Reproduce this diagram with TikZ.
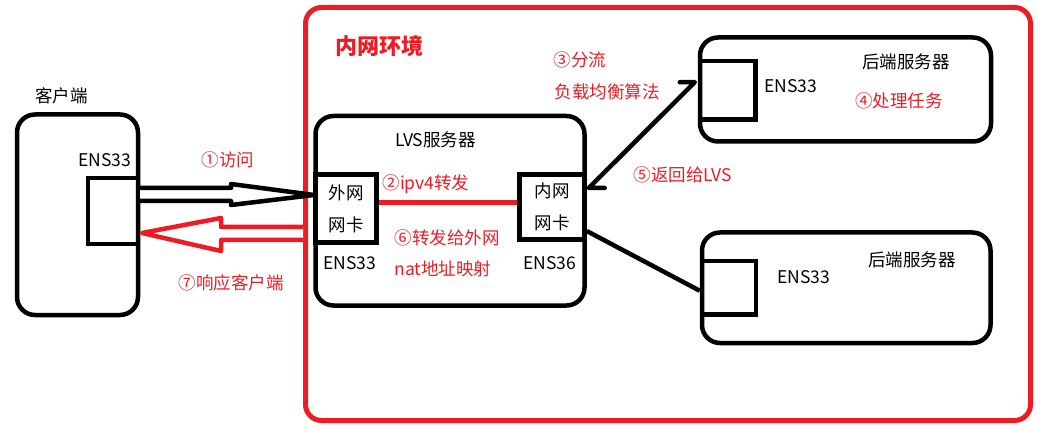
\documentclass[tikz,border=0pt]{standalone}
\usepackage{fontspec}
\setmainfont{Noto Sans CJK SC}
\usetikzlibrary{arrows.meta}
\definecolor{paintred}{RGB}{237,28,36}

\begin{document}
\begin{tikzpicture}[x=1pt,y=-1pt,font=\fontsize{17.5}{32}\selectfont,
   box/.style={draw,line width=4.5pt,rounded corners=18pt,inner sep=0pt},
   nic/.style={draw,line width=4.5pt,inner sep=0pt,align=center},
   txt/.style={inner sep=0pt},
   redtxt/.style={inner sep=0pt,text=paintred},
   wire/.style={line width=4.5pt},
   hollow/.style={line width=4.5pt,line join=round,fill=white}]
  \useasboundingbox (0,0) rectangle (1051,446);

  % intranet area
  \node[draw=paintred,line width=5pt,rounded corners=16pt,inner sep=0pt,
        minimum width=725pt,minimum height=413pt] (lan) at (668,214) {};
  \node[redtxt,font=\fontsize{22}{26}\selectfont\bfseries] (lantitle) at (379,46) {内网环境};

  % client
  \node[box,minimum width=121pt,minimum height=200.5pt] (client) at (77.5,214.75) {};
  \node[nic,minimum width=50pt,minimum height=66pt] (clientnic) at (113,211) {};
  \node[txt] (clienttitle) at (61.5,96) {客户端};
  \node[txt] (clientens) at (104.5,160) {ENS33};

  % lvs server
  \node[box,minimum width=269pt,minimum height=189.5pt] (lvs) at (450,210.75) {};
  \node[nic,minimum width=61pt,minimum height=68pt] (extnic) at (346,208.5) {外网\\网卡};
  \node[nic,minimum width=65pt,minimum height=65pt] (intnic) at (552,207) {内网\\网卡};
  \node[txt] (lvstitle) at (435.5,140) {LVS服务器};
  \node[txt] (extens) at (350,263) {ENS33};
  \node[txt] (intens) at (550,263) {ENS36};
  \draw[wire,line width=5pt,paintred] ([yshift=5.5pt]extnic.east) -- ([yshift=4pt]intnic.west);
  \node[redtxt] (step2) at (426,184) {②ipv4转发};
  \node[redtxt] (step6) at (447,238) {⑥转发给外网};
  \node[redtxt] (natmap) at (443,269) {nat地址映射};

  % real servers
  \node[box,minimum width=291pt,minimum height=104pt] (real1) at (845.5,89.5) {};
  \node[nic,minimum width=55.5pt,minimum height=58.5pt] (real1nic) at (727.75,90.25) {};
  \node[txt] (real1title) at (906,62) {后端服务器};
  \node[txt] (real1ens) at (791,86) {ENS33};
  \node[redtxt] (step4) at (899,101) {④处理任务};

  \node[box,minimum width=288.5pt,minimum height=110.5pt] (real2) at (846.25,287.75) {};
  \node[nic,minimum width=54pt,minimum height=53.5pt] (real2nic) at (729,287.75) {};
  \node[txt] (real2title) at (912,260) {后端服务器};
  \node[txt] (real2ens) at (804,277) {ENS33};

  % lvs <-> real servers
  \coordinate (backend) at ([shift={(2,-19)}]intnic.east);
  \coordinate (dispatch) at ([shift={(-3,-8)}]real1nic.west);
  \draw[wire,line cap=round,line join=round] ([xshift=16pt]backend) -- (backend)
       -- (dispatch) -- ([xshift=-15pt]dispatch);
  \draw[wire] ([shift={(0,24)}]intnic.east) -- ([shift={(0,3)}]real2nic.west);
  \node[redtxt] (step3) at (580,60) {③分流};
  \node[redtxt] (lbalgo) at (607,92) {负载均衡算法};
  \node[redtxt] (step5) at (683,175) {⑤返回给LVS};

  % client <-> lvs
  \draw[hollow] (140,188) -- (231,188) -- (231,184) -- (314,195) -- (231,205) -- (231,201) -- (140,201);
  \draw[hollow,draw=paintred] (303,227) -- (221,227) -- (221,218) -- (142,233) -- (221,251) -- (221,240) -- (303,240);
  \node[redtxt] (step1) at (228,160) {①访问};
  \node[redtxt] (step7) at (231,283) {⑦响应客户端};
\end{tikzpicture}
\end{document}
